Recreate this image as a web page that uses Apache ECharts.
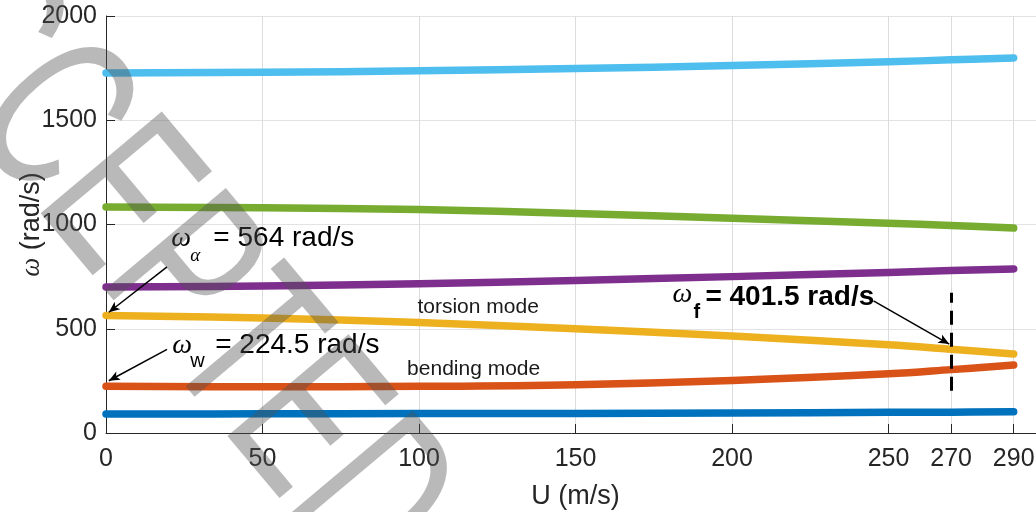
<!DOCTYPE html>
<html>
<head>
<meta charset="utf-8">
<script src="https://cdn.jsdelivr.net/npm/echarts@6/dist/echarts.min.js"></script>
<style>html,body{margin:0;padding:0;background:#fff}#c{width:1036px;height:512px}</style>
</head>
<body>
<div id="c"></div>
<script>
// ---- data ----
const U = [0, 50, 100, 150, 200, 250, 270, 290];
const mode1 = [91, 92, 93, 94, 96, 99, 100, 102];
const bending = [224.5, 222, 224, 232, 252, 284, 304, 326];
const torsion = [564, 551, 530, 500, 465, 423, 401.5, 379];
const mode4 = [700, 705, 716, 732, 750, 770, 779, 787];
const mode5 = [1084, 1080, 1072, 1053, 1030, 1006, 995, 983];
const mode6 = [1727, 1730, 1737, 1748, 1762, 1780, 1790, 1799];
const xTicks = [0, 50, 100, 150, 200, 250, 270, 290];
const yTicks = [0, 500, 1000, 1500, 2000];
const flutterSpeed = 270;
const omegaAlpha = 564, omegaW = 224.5, omegaF = 401.5;

const seriesList = [
  {name: 'm1', data: mode1, color: '#0072BD'},
  {name: 'bending', data: bending, color: '#D95319'},
  {name: 'torsion', data: torsion, color: '#EDB120'},
  {name: 'm4', data: mode4, color: '#7E2F8E'},
  {name: 'm5', data: mode5, color: '#77AC30'},
  {name: 'm6', data: mode6, color: '#4DBEEE'}
];

const TXT = '#262626';
const SANS = '"Liberation Sans", Arial, Helvetica, sans-serif';
const SERIF = '"Liberation Serif", "DejaVu Serif", serif';

const chart = echarts.init(document.getElementById('c'), null, {renderer: 'canvas'});

const arrowStyle = {color: '#000', width: 1.5, type: 'solid'};
const series = seriesList.map((s) => ({
  type: 'line',
  name: s.name,
  data: U.map((u, k) => [u, s.data[k]]),
  smooth: 0.4,
  showSymbol: false,
  symbol: 'none',
  silent: true,
  z: 2,
  lineStyle: {color: s.color, width: 7.5, cap: 'round', join: 'round'},
  itemStyle: {color: s.color},
  animation: false
}));

// annotation lines (arrows + flutter dashed line) via markLine in data coordinates
series.push({
  type: 'line', data: [], silent: true, animation: false,
  markLine: {
    silent: true, animation: false,
    label: {show: false},
    symbol: ['none', 'arrow'],
    symbolSize: [7, 11],
    lineStyle: arrowStyle,
    data: [
      [{coord: [19.5, 797]}, {coord: [0.9, omegaAlpha + 15]}],
      [{coord: [19.5, 401]}, {coord: [0.9, omegaW + 26]}],
      [{coord: [245.2, 634]}, {coord: [flutterSpeed - 0.6, omegaF + 25]}],
      [{coord: [flutterSpeed, 203], symbol: 'none'}, {coord: [flutterSpeed, 673], symbol: 'none',
        lineStyle: {color: '#000', width: 3, type: [14, 8]}}]
    ]
  }
});

chart.setOption({
  backgroundColor: '#fff',
  animation: false,
  grid: {left: 106, right: -9, top: 16, bottom: 79, containLabel: false, outerBoundsMode: 'none'},
  xAxis: {
    type: 'value', min: 0, max: 300,
    name: 'U (m/s)', nameLocation: 'middle', nameGap: 50, nameMoveOverlap: false,
    nameTextStyle: {fontFamily: SANS, fontSize: 27, color: TXT},
    axisLine: {show: true, onZero: false, lineStyle: {color: TXT, width: 1}},
    axisTick: {show: true, inside: true, length: 9, lineStyle: {color: TXT}, customValues: xTicks},
    axisLabel: {fontFamily: SANS, fontSize: 25, color: TXT, margin: 14, customValues: xTicks},
    splitLine: {show: true, lineStyle: {color: '#dcdcdc', width: 1}}
  },
  yAxis: {
    type: 'value', min: 0, max: 2000, interval: 500,
    name: '{w|ω} (rad/s)', nameLocation: 'middle', nameGap: 61, nameRotate: 90, nameMoveOverlap: false,
    nameTextStyle: {fontFamily: SANS, fontSize: 27, color: TXT,
      rich: {w: {fontFamily: SERIF, fontStyle: 'italic', fontSize: 27, color: TXT}}},
    axisLine: {show: true, lineStyle: {color: TXT, width: 1}},
    axisTick: {show: true, inside: true, length: 9, lineStyle: {color: TXT}},
    axisLabel: {fontFamily: SANS, fontSize: 25, color: TXT, margin: 9,
      formatter: v => yTicks.indexOf(v) >= 0 ? String(v) : ''},
    splitLine: {show: true, lineStyle: {color: '#e3e3e3', width: 1}}
  },
  series: series
});

// text annotations positioned from data coordinates
function px(pt) { return chart.convertToPixel({gridIndex: 0}, pt); }
function txt(p, dx, dyBase, text, size, opts) {
  opts = opts || {};
  return {
    type: 'text', x: p[0] + dx, y: p[1] + dyBase - 0.35 * size, z: 50, silent: true,
    style: Object.assign({text: text, fontSize: size, fontFamily: SANS, fill: '#000',
      align: 'left', verticalAlign: 'middle'}, opts)
  };
}
const aA = px([34.3, 887]);   // "= 564 rad/s" left/baseline
const aW = px([34.9, 374]);   // "= 224.5 rad/s"
const aF = px([191.5, 604]);  // "= 401.5 rad/s"
const aT = px([99.5, 566]);   // torsion mode
const aB = px([96.2, 273]);   // bending mode
const it = {fontFamily: SERIF, fontStyle: 'italic'};
const g = [
  txt(aA, -42, 0, 'ω', 28, it),
  txt(aA, -23, 15, 'α', 19, it),
  txt(aA, 0, 0, '= ' + omegaAlpha + ' rad/s', 28),
  txt(aW, -43, 0, 'ω', 28, it),
  txt(aW, -25, 13, 'w', 20),
  txt(aW, 0, 0, '= ' + omegaW + ' rad/s', 28),
  txt(aF, -33, -3, 'ω', 28, it),
  txt(aF, -12, 12, 'f', 20, {fontWeight: 'bold'}),
  txt(aF, 0, 0, '= ' + omegaF + ' rad/s', 28, {fontWeight: 'bold'}),
  txt(aT, 0, 0, 'torsion mode', 21, {fill: '#1a1a1a'}),
  txt(aB, 0, 0, 'bending mode', 21, {fill: '#1a1a1a'}),
  {
    type: 'text', x: 140, y: 233, rotation: -50 * Math.PI / 180, scaleX: 0.65, scaleY: 1, z: 100, silent: true,
    style: {text: 'ACCEPTED', fontSize: 230, fontFamily: SANS, fill: 'rgba(80,80,80,0.4)',
      align: 'center', verticalAlign: 'middle'}
  }
];
chart.setOption({graphic: g});
</script>
</body>
</html>
